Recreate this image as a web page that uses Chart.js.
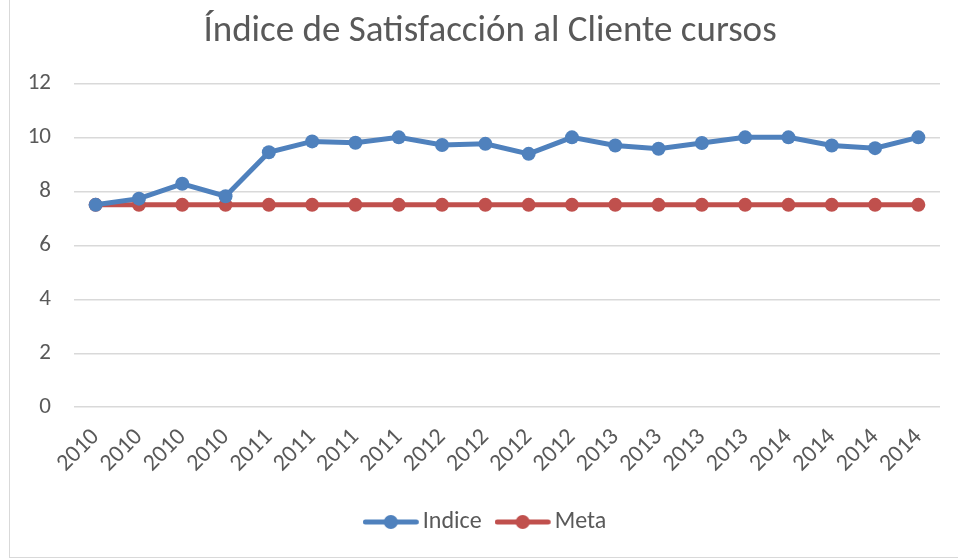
<!DOCTYPE html>
<html>
<head>
<meta charset="utf-8">
<script src="https://cdn.jsdelivr.net/npm/chart.js@4/dist/chart.umd.min.js"></script>
<style>
  html,body{margin:0;padding:0;background:#fff;overflow:hidden;}
  #wrap{position:absolute;left:0;top:0;width:958px;height:559px;}
  #frame{position:absolute;left:9px;top:-2px;width:960px;height:560px;border:1.5px solid #d9d9d9;box-sizing:border-box;pointer-events:none;}
</style>
</head>
<body>
<div id="wrap"><canvas id="c" width="958" height="559"></canvas><div id="frame"></div></div>
<script>
const categories = ["2010","2010","2010","2010","2011","2011","2011","2011","2012","2012","2012","2012","2013","2013","2013","2013","2014","2014","2014","2014"];
const indice = [7.5, 7.73, 8.28, 7.82, 9.45, 9.85, 9.8, 10.0, 9.72, 9.76, 9.39, 10.0, 9.7, 9.58, 9.79, 10.0, 10.0, 9.7, 9.6, 10.0];
const meta = [7.5, 7.5, 7.5, 7.5, 7.5, 7.5, 7.5, 7.5, 7.5, 7.5, 7.5, 7.5, 7.5, 7.5, 7.5, 7.5, 7.5, 7.5, 7.5, 7.5];
const yTicks = [0, 2, 4, 6, 8, 10, 12];
const seriesNames = ["Indice", "Meta"];
const colors = ["#4F81BD", "#C0504D"];

const FONT = "Carlito, Calibri, 'Open Sans', 'Liberation Sans', sans-serif";
const PAD_L = 24;
const PAD_R = 2;
const PLOT_L = 74;
const PLOT_R = 940;

function legendIcon(color){
  const cv = document.createElement('canvas');
  cv.width = 59; cv.height = 16;
  const g = cv.getContext('2d');
  g.strokeStyle = color; g.lineWidth = 5; g.lineCap = 'round';
  g.beginPath(); g.moveTo(2.5,8); g.lineTo(53.5,8); g.stroke();
  g.fillStyle = color; g.beginPath(); g.arc(28,8,7,0,Math.PI*2); g.fill();
  return cv;
}
const icons = colors.map(legendIcon);

new Chart(document.getElementById('c'), {
  type: 'line',
  data: {
    labels: categories,
    datasets: [
      {label: seriesNames[0], data: indice, borderColor: colors[0], backgroundColor: colors[0], borderWidth: 5, pointRadius: 7, pointHoverRadius: 7, pointBorderWidth: 0, tension: 0, yAxisID: 'y'},
      {label: seriesNames[1], data: meta, borderColor: colors[1], backgroundColor: colors[1], borderWidth: 5, pointRadius: 7, pointHoverRadius: 7, pointBorderWidth: 0, tension: 0, yAxisID: 'y'}
    ]
  },
  options: {
    responsive: false,
    animation: false,
    layout: {padding: {left: PAD_L, right: PAD_R, top: 6, bottom: 15}},
    plugins: {
      title: {display: true, text: 'Índice de Satisfacción al Cliente cursos', color: '#595959', font: {family: FONT, size: 37, weight: 'normal'}, padding: {top: 4, bottom: 29}},
      legend: {
        position: 'bottom',
        labels: {
          usePointStyle: true,
          pointStyleWidth: 37,
          color: '#595959',
          font: {family: FONT, size: 24},
          padding: 24,
          generateLabels: (chart) => chart.data.datasets.map((ds, i) => ({
            text: ds.label, fillStyle: colors[i], strokeStyle: colors[i], lineWidth: 0,
            pointStyle: icons[i], datasetIndex: i, hidden: false, fontColor: '#595959'
          }))
        }
      },
      tooltip: {enabled: false}
    },
    scales: {
      x: {
        offset: true,
        grid: {display: false},
        border: {display: false},
        afterFit: (s) => { s.paddingLeft = 0; s.paddingRight = 0; },
        ticks: {color: '#595959', font: {family: FONT, size: 24}, maxRotation: 45, minRotation: 45, autoSkip: false, padding: 8}
      },
      y: {
        position: 'left',
        min: 0, max: 12,
        afterBuildTicks: (s) => { s.ticks = yTicks.map(v => ({value: v})); },
        afterFit: (s) => { s.width = PLOT_L - PAD_L; },
        grid: {color: '#d9d9d9', lineWidth: 1.5, drawTicks: false},
        border: {display: false},
        ticks: {color: '#595959', font: {family: FONT, size: 23}, padding: 23}
      },
      yRight: {
        position: 'right',
        display: true,
        afterFit: (s) => { s.width = 958 - PAD_R - PLOT_R; },
        grid: {display: false, drawTicks: false},
        border: {display: false},
        ticks: {display: false}
      }
    }
  }
});
</script>
</body>
</html>
